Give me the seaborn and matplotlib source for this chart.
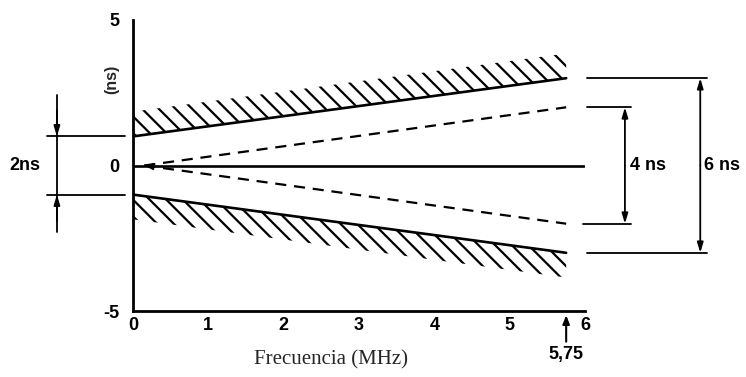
import matplotlib
matplotlib.use("Agg")
import matplotlib.pyplot as plt
import seaborn as sns
import numpy as np

# Tolerance mask for group delay vs. frequency
freq = [0.0, 5.75]           # MHz
upper_limit = [1.0, 3.0]      # ns
lower_limit = [-1.0, -3.0]    # ns
dash_freq = [0.15, 5.75]
upper_dash = [0.0, 2.0]
lower_dash = [0.0, -2.0]
center_freq = [0.0, 6.0]
center_val = [0.0, 0.0]
hatch_depth = 0.85

x_ticks = [0, 1, 2, 3, 4, 5, 6]
y_ticks = [-5, -4, -3, -2, -1, 0, 1, 2, 3, 4, 5]
y_labels = {-5: "-5", 0: "0", 5: "5"}

sns.set_style("white")
plt.rcParams["font.family"] = ["Liberation Sans", "DejaVu Sans"]
plt.rcParams["hatch.linewidth"] = 1.6

fig = plt.figure(figsize=(7.46, 3.77), dpi=100)
ax = fig.add_axes([133 / 746, 66 / 377, 452 / 746, 291 / 377])

lw = 1.9
sns.lineplot(x=freq, y=upper_limit, ax=ax, color="k", lw=lw)
sns.lineplot(x=freq, y=lower_limit, ax=ax, color="k", lw=lw)
sns.lineplot(x=dash_freq, y=upper_dash, ax=ax, color="k", lw=1.6, linestyle=(0, (5, 3.5)))
sns.lineplot(x=dash_freq, y=lower_dash, ax=ax, color="k", lw=1.6, linestyle=(0, (5, 3.5)))
sns.lineplot(x=center_freq, y=center_val, ax=ax, color="k", lw=1.9)
ax.plot([0.22], [0.0], marker="<", color="k", ms=5)

# hatched forbidden zones
f = np.array(freq)
up = np.array(upper_limit)
lo = np.array(lower_limit)
ax.fill_between(f, up, up + hatch_depth, facecolor="none", edgecolor="k",
                hatch="\\\\", linewidth=0)
ax.fill_between(f, lo - hatch_depth, lo, facecolor="none", edgecolor="k",
                hatch="\\\\", linewidth=0)

ax.set_xlim(0, 6)
ax.set_ylim(-5, 5)
for s in ["top", "right"]:
    ax.spines[s].set_visible(False)
for s in ["left", "bottom"]:
    ax.spines[s].set_linewidth(2)
    ax.spines[s].set_color("k")

ax.set_xticks(x_ticks)
ax.set_xticklabels([str(t) for t in x_ticks], fontweight="bold", fontsize=13)
ax.set_yticks(y_ticks)
ax.set_yticklabels([y_labels.get(t, "") for t in y_ticks], fontweight="bold", fontsize=13)
ax.tick_params(axis="both", direction="in", length=11, width=1.6, colors="k")
ax.tick_params(axis="y", pad=10)
ax.tick_params(axis="x", pad=4)

bold = dict(fontweight="bold", fontsize=13, color="k")

# axis titles
ax.text(-0.28, 2.95, "(ns)", rotation=90, ha="center", va="center", clip_on=False,
        fontweight="bold", fontsize=11.5)
ax.text(2.63, -6.68, "Frecuencia (MHz)", ha="center", va="center", fontsize=15,
        family="Liberation Serif", clip_on=False)

# 5,75 marker
ax.annotate("", xy=(5.75, -5.05), xytext=(5.75, -6.15), annotation_clip=False,
            arrowprops=dict(arrowstyle="-|>,head_length=0.5,head_width=0.2", color="k", lw=1.5))
ax.text(5.75, -6.5, "5,75", ha="center", va="center", clip_on=False, **bold)

arrow = dict(arrowstyle="-|>,head_length=0.6,head_width=0.18", color="k", lw=1.3,
             shrinkA=0, shrinkB=0)

# 2 ns dimension (left)
for yv in (1, -1):
    ax.plot([-1.14, -0.1], [yv, yv], color="k", lw=1.3, clip_on=False)
xd = -1.01
ax.plot([xd, xd], [2.42, -2.29], color="k", lw=1.3, clip_on=False)
ax.annotate("", xy=(xd, 1), xytext=(xd, 1.9), annotation_clip=False, arrowprops=arrow)
ax.annotate("", xy=(xd, -1), xytext=(xd, -1.9), annotation_clip=False, arrowprops=arrow)
ax.text(-1.43, 0, "2ns", ha="center", va="center", clip_on=False, **bold)

# 4 ns dimension (right)
ax.plot([6.03, 6.61], [2, 2], color="k", lw=1.3, clip_on=False)
ax.plot([5.98, 6.61], [-2, -2], color="k", lw=1.3, clip_on=False)
xd = 6.53
ax.annotate("", xy=(xd, 2), xytext=(xd, 0), annotation_clip=False, arrowprops=arrow)
ax.annotate("", xy=(xd, -2), xytext=(xd, 0), annotation_clip=False, arrowprops=arrow)
ax.text(6.6, 0, "4 ns", ha="left", va="center", clip_on=False, **bold)

# 6 ns dimension (right)
ax.plot([6.03, 7.62], [3, 3], color="k", lw=1.3, clip_on=False)
ax.plot([6.02, 7.62], [-3, -3], color="k", lw=1.3, clip_on=False)
xd = 7.53
ax.annotate("", xy=(xd, 3), xytext=(xd, 0), annotation_clip=False, arrowprops=arrow)
ax.annotate("", xy=(xd, -3), xytext=(xd, 0), annotation_clip=False, arrowprops=arrow)
ax.text(7.58, 0, "6 ns", ha="left", va="center", clip_on=False, **bold)

fig.savefig("out.png", dpi=100, facecolor="white")
